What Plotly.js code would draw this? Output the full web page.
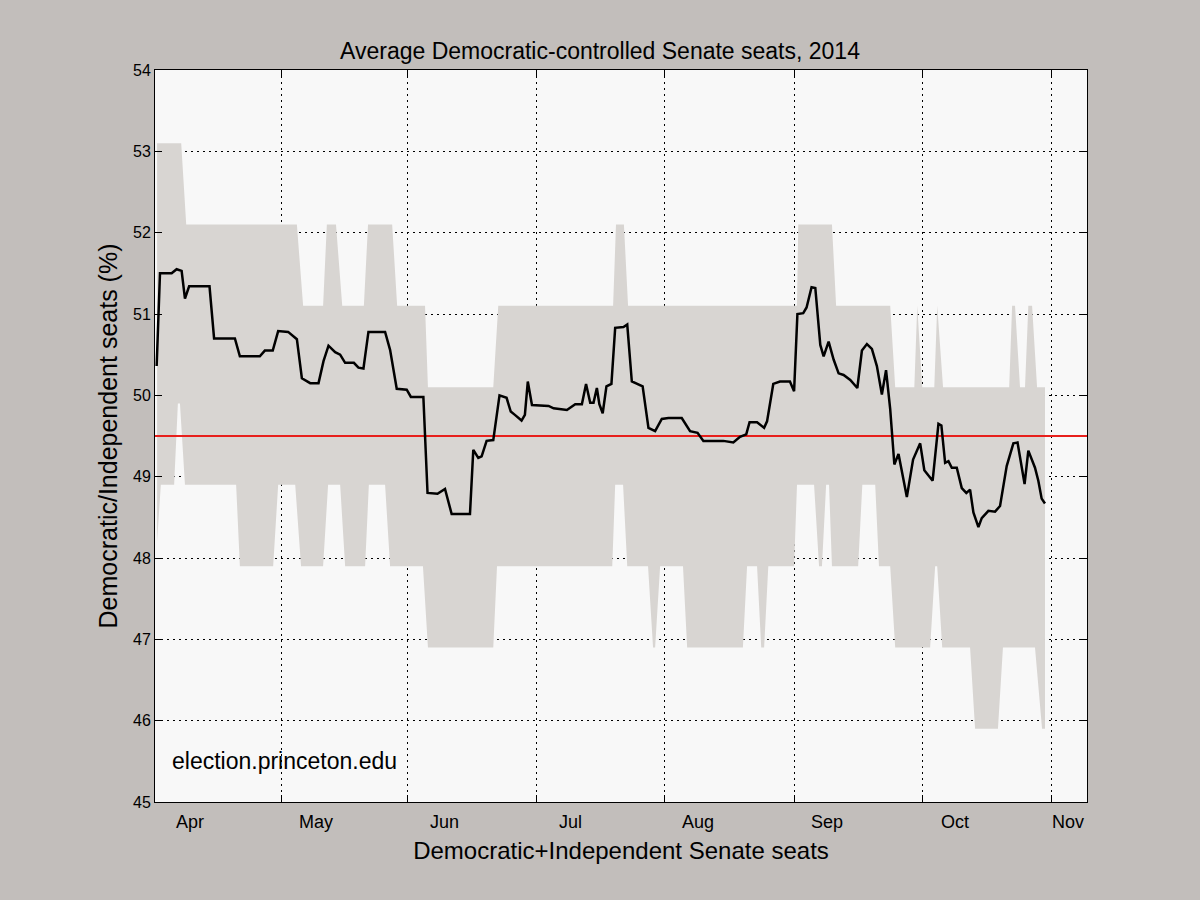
<html><head><script src="https://cdn.plot.ly/plotly-3.0.1.min.js"></script>
<style>body{margin:0;background:#c2bebb}</style></head><body><div id="c" style="width:1200px;height:900px"></div><script>
const lineDays=[0.4,1.2,4.0,5.2,6.4,7.2,8.2,13.1,14.2,19.2,20.4,25.2,26.4,28.3,29.6,32.0,34.1,35.3,37.3,39.3,40.5,41.7,43.3,44.5,45.7,47.8,48.9,50.1,51.3,55.3,56.5,58.1,60.5,61.5,64.5,65.5,67.9,69.7,71.3,75.7,76.5,77.7,78.5,79.7,81.3,82.8,84.5,85.5,86.5,88.1,88.9,89.6,90.6,94.6,95.8,99.0,101,102.6,103.6,104.6,105.4,106.2,106.8,107.6,108.5,109.7,110.6,112.6,113.5,114.6,117.2,118.6,120.2,121.8,123.4,126.6,128.6,130.4,131.8,136.6,139,140.6,142.1,142.9,144.7,146.4,147.1,148.6,150.2,152.6,153.6,154.4,155.8,156.6,157.8,158.7,159.9,160.7,161.9,163.1,164.3,165.5,167.1,168.8,169.9,171.1,172.3,173.5,174.7,175.7,176.7,177.7,178.7,180.7,182.2,183.9,184.9,186.9,188.3,189.0,189.9,190.7,191.5,192.7,193.9,195,195.9,196.7,197.9,198.7,200.3,201.9,203.1,204.7,206.3,207.3,209,209.9,211.5,212.3,213.1,213.9];
const lineSeats=[50.36,51.5,51.5,51.55,51.53,51.19,51.34,51.34,50.7,50.7,50.48,50.48,50.55,50.55,50.79,50.78,50.69,50.21,50.15,50.15,50.42,50.61,50.53,50.5,50.4,50.4,50.34,50.33,50.78,50.78,50.56,50.08,50.07,49.98,49.98,48.8,48.79,48.85,48.54,48.54,49.33,49.23,49.25,49.44,49.45,50.0,49.97,49.8,49.76,49.69,49.76,50.17,49.88,49.87,49.84,49.82,49.89,49.89,50.14,49.91,49.91,50.09,49.89,49.78,50.11,50.14,50.83,50.84,50.87,50.17,50.11,49.6,49.56,49.71,49.72,49.72,49.56,49.54,49.44,49.44,49.42,49.49,49.52,49.67,49.67,49.6,49.68,50.14,50.17,50.17,50.05,51.0,51.01,51.08,51.33,51.32,50.62,50.48,50.66,50.44,50.27,50.25,50.19,50.09,50.55,50.63,50.57,50.36,50.01,50.31,49.83,49.15,49.28,48.75,49.21,49.41,49.08,48.95,49.65,49.63,49.17,49.19,49.11,49.11,48.86,48.8,48.84,48.56,48.38,48.49,48.58,48.57,48.64,49.13,49.41,49.42,48.91,49.32,49.11,48.95,48.73,48.67];
const upperDays=[0.5,6.3,7.5,34.1,35.6,40.4,41.3,43.5,45.0,50.2,51.2,57.0,58.2,64.9,65.6,81.3,82.5,110.1,110.8,112.7,113.7,154.3,154.6,162.7,163.7,176.7,177.9,182.5,183.2,184.4,187.3,188,189.4,205.3,206,206.7,207.9,209.1,209.9,210.8,212,213.9];
const upperSeats=[53.1,53.1,52.1,52.1,51.1,51.1,52.1,52.1,51.1,51.1,52.1,52.1,51.1,51.1,50.1,50.1,51.1,51.1,52.1,52.1,51.1,51.1,52.1,52.1,51.1,51.1,50.1,50.1,51.1,50.1,50.1,51.1,50.1,50.1,51.1,51.1,50.1,50.1,51.1,51.1,50.1,50.1];
const lowerDays=[0.5,1.4,4.6,5.5,6.0,7.2,19.5,20.4,28.4,29.6,33.7,35.1,40.4,41.6,44.5,45.7,50.5,51.4,55.3,56.5,64.4,65.6,81.3,82.2,109.9,110.6,112.5,113.5,118.5,119.7,120.2,121.4,126.9,127.9,141.3,142.3,144.7,145.7,146.4,147.4,153.6,154.3,158.4,159.6,160.3,161.3,162,162.7,169,170,173.1,174,176.7,177.9,186.3,187.5,188,189.2,195.9,197.1,202.6,203.8,211.5,213.2,213.9];
const lowerSeats=[48.2,48.9,48.9,49.9,49.9,48.9,48.9,47.9,47.9,48.9,48.9,47.9,47.9,48.9,48.9,47.9,47.9,48.9,48.9,47.9,47.9,46.9,46.9,47.9,47.9,48.9,48.9,47.9,47.9,46.9,46.9,47.9,47.9,46.9,46.9,47.9,47.9,46.9,46.9,47.9,47.9,48.9,48.9,47.9,47.9,48.9,48.9,47.9,47.9,48.9,48.9,47.9,47.9,46.9,46.9,47.9,47.9,46.9,46.9,45.9,45.9,46.9,46.9,45.9,45.9];
const threshold=49.5;
const monthGridDays=[30.3,60.8,91.6,122.4,153.6,184.4,215.4];
const monthLabels=['Apr','May','Jun','Jul','Aug','Sep','Oct','Nov'];
const monthLabelDays=[8.4,38.7,69.5,99.8,130.5,161.5,192.3,219.5];
const yTicks=[45,46,47,48,49,50,51,52,53,54];

const F='Liberation Sans, Arial, sans-serif';
const traces=[
 {x:lowerDays,y:lowerSeats,mode:'lines',line:{width:0},hoverinfo:'skip',showlegend:false},
 {x:upperDays,y:upperSeats,mode:'lines',line:{width:0},fill:'tonexty',fillcolor:'#d8d5d2',showlegend:false},
 {x:[0,224],y:[threshold,threshold],mode:'lines',line:{color:'#e8201c',width:1.8},showlegend:false},
 {x:lineDays,y:lineSeats,mode:'lines',line:{color:'#000',width:2.5},showlegend:false}
];
const ann=monthLabels.map((t,i)=>({x:monthLabelDays[i],y:0,xref:'x',yref:'paper',yanchor:'top',yshift:-8,text:t,showarrow:false,font:{family:F,size:18,color:'#000'}}));
ann.push({x:0.016,y:0.035,xref:'paper',yref:'paper',xanchor:'left',yanchor:'bottom',text:'election.princeton.edu',showarrow:false,font:{family:F,size:23,color:'#000'}});
Plotly.newPlot('c',traces,{
 width:1200,height:900,paper_bgcolor:'#c2bebb',plot_bgcolor:'#f8f8f8',
 margin:{l:155,r:113,t:70,b:98},
 title:{text:'Average Democratic-controlled Senate seats, 2014',font:{family:F,size:23,color:'#000'},x:0.5,y:0.952},
 xaxis:{range:[0,224],tickvals:monthGridDays,showticklabels:false,ticks:'inside',ticklen:7,tickcolor:'#000',showgrid:true,gridcolor:'#000',griddash:'2px,4px',gridwidth:1,showline:true,linecolor:'#000',mirror:'ticks',zeroline:false,
   title:{text:'Democratic+Independent Senate seats',font:{family:F,size:24,color:'#000'},standoff:40}},
 yaxis:{range:[45,54],tickvals:yTicks,ticks:'inside',ticklen:7,tickcolor:'#000',showgrid:true,gridcolor:'#000',griddash:'2px,4px',gridwidth:1,showline:true,linecolor:'#000',mirror:'ticks',zeroline:false,tickfont:{family:F,size:16,color:'#000'},
   title:{text:'Democratic/Independent seats (%)',font:{family:F,size:25,color:'#000'},standoff:8}},
 annotations:ann
},{displayModeBar:false});
</script></body></html>
